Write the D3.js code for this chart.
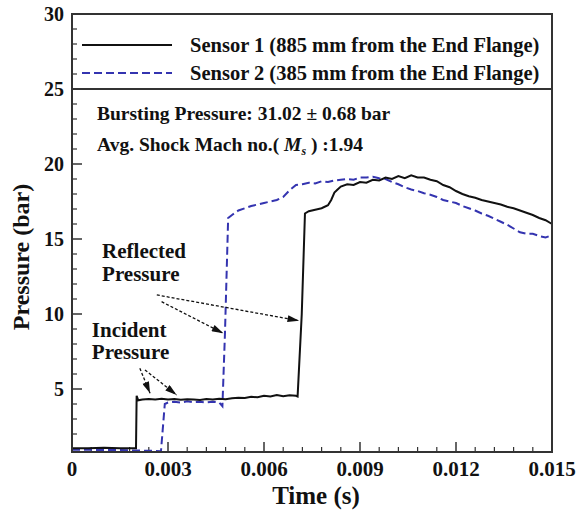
<!DOCTYPE html>
<html>
<head>
<meta charset="utf-8">
<script src="https://cdn.jsdelivr.net/npm/d3@7"></script>
<style>
  body { margin: 0; background: #fff; }
  svg text { font-family: "Liberation Serif", "Times New Roman", Times, serif; font-weight: bold; fill: #111; }
</style>
</head>
<body>
<div id="chart"></div>
<script>
	// data: [time (s), pressure (bar)]
	var sensor1 = [[0,1.05],[0.0005,1.05],[0.0010,1.08],[0.0015,1.05],[0.0020,1.05],[0.00202,4.55],[0.00207,4.25],
		[0.0022,4.30],[0.0024,4.33],[0.0026,4.30],[0.0028,4.35],[0.0030,4.30],[0.0032,4.33],[0.0034,4.28],[0.0036,4.32],
		[0.0038,4.30],[0.0040,4.27],[0.0042,4.33],[0.0044,4.30],[0.0046,4.35],[0.0048,4.32],[0.0050,4.38],[0.0052,4.42],
		[0.0054,4.40],[0.0056,4.48],[0.0058,4.45],[0.0060,4.55],[0.0062,4.50],[0.0064,4.60],[0.0066,4.52],[0.0068,4.58],
		[0.0070,4.55],[0.00705,4.50],[0.00718,10.0],[0.00728,16.7],[0.0074,16.85],[0.0076,16.95],[0.0078,17.05],[0.0080,17.25],
		[0.0081,17.6],[0.0082,18.1],[0.0083,18.3],[0.0084,18.5],[0.0086,18.65],[0.0088,18.6],[0.0090,18.8],[0.0092,18.75],
		[0.0094,18.95],[0.0096,18.9],[0.0098,19.1],[0.0100,19.0],[0.0102,19.2],[0.0104,19.05],[0.0106,19.25],[0.0108,19.1],
		[0.0110,19.1],[0.0112,18.95],[0.0114,18.85],[0.0116,18.6],[0.0118,18.45],[0.0120,18.2],[0.0122,18.0],[0.0124,17.85],
		[0.0126,17.75],[0.0128,17.6],[0.0130,17.5],[0.0132,17.4],[0.0134,17.3],[0.0136,17.15],[0.0138,17.05],[0.0140,16.9],
		[0.0142,16.75],[0.0144,16.6],[0.0146,16.4],[0.0148,16.25],[0.0150,16.0]];

	var sensor2 = [[0,0.95],[0.0005,0.95],[0.0010,0.93],[0.0015,0.93],[0.0020,0.90],[0.0025,0.88],[0.00278,0.85],[0.0029,4.0],
		[0.0030,4.1],[0.0032,4.15],[0.0034,4.1],[0.0036,4.18],[0.0038,4.12],[0.0040,4.15],[0.0042,4.1],[0.0044,4.15],[0.0046,4.1],
		[0.0047,3.85],[0.00478,8.7],[0.00488,16.4],[0.0050,16.6],[0.0052,16.9],[0.0054,17.05],[0.0056,17.2],[0.0058,17.3],
		[0.0060,17.4],[0.0062,17.5],[0.0064,17.6],[0.0066,17.8],[0.0068,18.25],[0.0070,18.6],[0.0072,18.65],[0.0074,18.75],
		[0.0076,18.7],[0.0078,18.85],[0.0080,18.8],[0.0082,18.9],[0.0084,18.95],[0.0086,19.0],[0.0088,18.95],[0.0090,19.1],
		[0.0092,19.1],[0.0094,19.15],[0.0096,19.05],[0.0098,19.0],[0.0100,18.8],[0.0102,18.65],[0.0104,18.45],[0.0106,18.3],
		[0.0108,18.2],[0.0110,18.05],[0.0112,17.95],[0.0114,17.8],[0.0116,17.6],[0.0118,17.5],[0.0120,17.4],[0.0122,17.2],
		[0.0124,17.05],[0.0126,16.9],[0.0128,16.7],[0.0130,16.55],[0.0132,16.35],[0.0134,16.15],[0.0136,15.95],[0.0138,15.7],
		[0.0140,15.45],[0.0142,15.35],[0.0144,15.35],[0.0146,15.2],[0.0148,15.1],[0.0150,15.25]];

	var seriesNames = ["Sensor 1 (885 mm from the End Flange)", "Sensor 2 (385 mm from the End Flange)"];
	var xTicks = [0, 0.003, 0.006, 0.009, 0.012, 0.015];
	var yTicks = [5, 10, 15, 20, 25, 30];
	var legendTop = 25;   // bar, bottom line of the legend box

	// annotations in data units
	var arrows = [
		[[0.00265, 11.27], [0.00710, 9.55]],
		[[0.00280, 10.82], [0.00473, 8.71]],
		[[0.00212, 6.38], [0.00244, 4.71]],
		[[0.00228, 6.27], [0.00327, 4.60]]
	];
	var notes = [
		{t: 0.00094, p: 13.75, text: "Reflected"},
		{t: 0.00094, p: 12.2, text: "Pressure"},
		{t: 0.00062, p: 8.45, text: "Incident"},
		{t: 0.00062, p: 7.0, text: "Pressure"}
	];

	//Width and height
	var w = 584;
	var h = 512;
	var margin = {top: 14, right: 32, bottom: 60, left: 72};
	var iw = w - margin.left - margin.right;
	var ih = h - margin.top - margin.bottom;

	var blue = "#3434b0";

	var svg = d3.select("#chart").append("svg")
				.attr("width", w)
				.attr("height", h);

	var g = svg.append("g").attr("transform", "translate(" + margin.left + "," + margin.top + ")");

	var x = d3.scaleLinear().domain([0, 0.015]).range([0, iw]);
	var y = d3.scaleLinear().domain([0.8, 30]).range([ih, 0]);

	//minor ticks
	var xMinor = d3.range(0, 0.0150001, 0.0006).filter(function(v){ return Math.abs(v / 0.003 - Math.round(v / 0.003)) > 1e-6; });
	var yMinor = d3.range(1, 30, 1).filter(function(v){ return v % 5 != 0; });

	g.selectAll(".xminor").data(xMinor).enter().append("line")
		.attr("x1", function(d){ return x(d); }).attr("x2", function(d){ return x(d); })
		.attr("y1", ih).attr("y2", ih - 5)
		.attr("stroke", "#333").attr("stroke-width", 1.2);
	g.selectAll(".xmajor").data(xTicks).enter().append("line")
		.attr("x1", function(d){ return x(d); }).attr("x2", function(d){ return x(d); })
		.attr("y1", ih).attr("y2", ih - 10)
		.attr("stroke", "#333").attr("stroke-width", 1.5);
	g.selectAll(".yminor").data(yMinor).enter().append("line")
		.attr("x1", 0).attr("x2", 5)
		.attr("y1", function(d){ return y(d); }).attr("y2", function(d){ return y(d); })
		.attr("stroke", "#333").attr("stroke-width", 1.2);
	g.selectAll(".ymajor").data(yTicks).enter().append("line")
		.attr("x1", 0).attr("x2", 10)
		.attr("y1", function(d){ return y(d); }).attr("y2", function(d){ return y(d); })
		.attr("stroke", "#333").attr("stroke-width", 1.5);

	//tick labels
	g.selectAll(".xlab").data(xTicks).enter().append("text")
		.attr("x", function(d){ return x(d); })
		.attr("y", ih + 24)
		.attr("text-anchor", "middle")
		.style("font-size", "21px")
		.text(function(d){ return d === 0 ? "0" : d3.format(".3f")(d); });
	g.selectAll(".ylab").data(yTicks).enter().append("text")
		.attr("x", -8)
		.attr("y", function(d){ return y(d) + 7; })
		.attr("text-anchor", "end")
		.style("font-size", "20px")
		.text(function(d){ return d; });

	//axis titles
	svg.append("text")
		.attr("x", margin.left + iw / 2 + 4)
		.attr("y", h - 8)
		.attr("text-anchor", "middle")
		.style("font-size", "25px")
		.text("Time (s)");
	svg.append("text")
		.attr("transform", "translate(29," + 257 + ") rotate(-90)")
		.attr("text-anchor", "middle")
		.style("font-size", "24px")
		.text("Pressure (bar)");

	//curves
	var line = d3.line()
		.x(function(d){ return x(d[0]); })
		.y(function(d){ return y(d[1]); });

	g.append("path").datum(sensor2)
		.attr("d", line)
		.attr("fill", "none")
		.attr("stroke", blue)
		.attr("stroke-width", 2)
		.attr("stroke-dasharray", "8,4");
	g.append("path").datum(sensor1)
		.attr("d", line)
		.attr("fill", "none")
		.attr("stroke", "#111")
		.attr("stroke-width", 2);

	//frame and legend box
	g.append("rect")
		.attr("width", iw).attr("height", ih)
		.attr("fill", "none")
		.attr("stroke", "#333").attr("stroke-width", 2);
	g.append("line")
		.attr("x1", 0).attr("x2", iw)
		.attr("y1", y(legendTop)).attr("y2", y(legendTop))
		.attr("stroke", "#333").attr("stroke-width", 2);

	var legend = g.selectAll(".legend").data(seriesNames).enter().append("g")
		.attr("transform", function(d, i){ return "translate(10," + (31 + i * 28) + ")"; });
	legend.append("line")
		.attr("x1", 0).attr("x2", 90)
		.attr("stroke", function(d, i){ return i == 0 ? "#111" : blue; })
		.attr("stroke-width", 2)
		.attr("stroke-dasharray", function(d, i){ return i == 0 ? null : "8,4"; });
	legend.append("text")
		.attr("x", 108)
		.attr("y", 7)
		.style("font-size", "20.5px")
		.text(function(d){ return d; });

	//info text
	g.append("text")
		.attr("x", 25).attr("y", y(legendTop) + 31)
		.style("font-size", "19.5px")
		.text("Bursting Pressure: 31.02 \u00b1 0.68 bar");
	var ms = g.append("text")
		.attr("x", 25).attr("y", y(legendTop) + 62)
		.style("font-size", "19.5px");
	ms.append("tspan").text("Avg. Shock Mach no.( ");
	ms.append("tspan").style("font-style", "italic").text("M");
	ms.append("tspan").attr("dy", 4).style("font-size", "12px").style("font-style", "italic").text("s");
	ms.append("tspan").attr("dy", -4).text(" ) :1.94");

	//annotations
	svg.append("defs").append("marker")
		.attr("id", "arrowhead")
		.attr("viewBox", "0 0 10 6")
		.attr("refX", 10).attr("refY", 3)
		.attr("markerWidth", 14).attr("markerHeight", 7)
		.attr("markerUnits", "userSpaceOnUse")
		.attr("orient", "auto")
		.append("path").attr("d", "M0,0 L10,3 L0,6 Z").attr("fill", "#111");

	g.selectAll(".arrow").data(arrows).enter().append("line")
		.attr("x1", function(d){ return x(d[0][0]); })
		.attr("y1", function(d){ return y(d[0][1]); })
		.attr("x2", function(d){ return x(d[1][0]); })
		.attr("y2", function(d){ return y(d[1][1]); })
		.attr("stroke", "#111")
		.attr("stroke-width", 1.3)
		.attr("stroke-dasharray", "3,2")
		.attr("marker-end", "url(#arrowhead)");

	g.selectAll(".note").data(notes).enter().append("text")
		.attr("x", function(d){ return x(d.t); })
		.attr("y", function(d){ return y(d.p); })
		.style("font-size", "21px")
		.text(function(d){ return d.text; });
</script>
</body>
</html>
